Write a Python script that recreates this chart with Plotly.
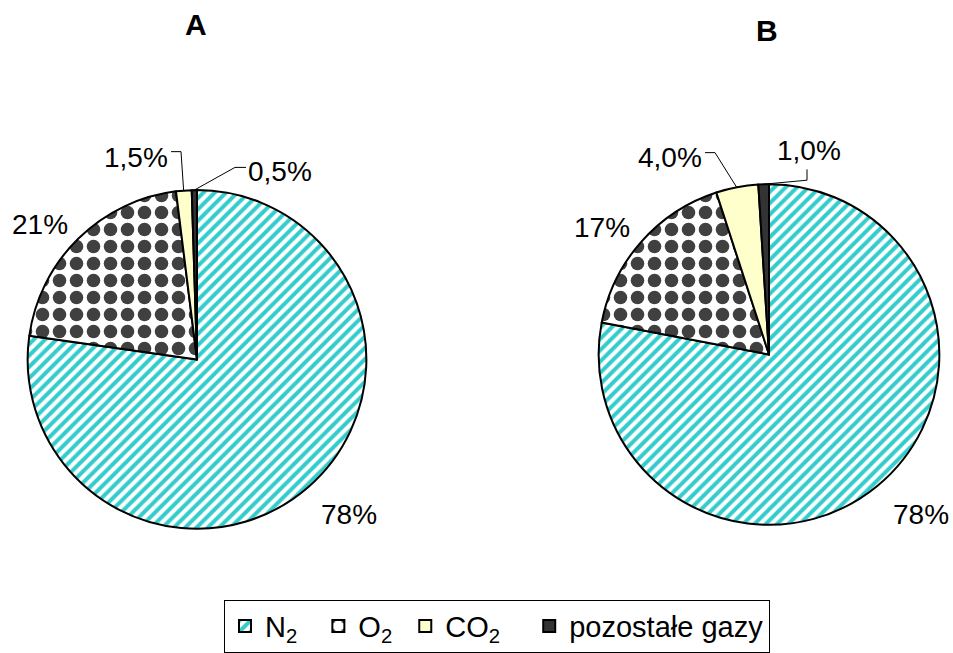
import math
import plotly.graph_objects as go

# ---- data ----
labels = ["N<sub>2</sub>", "O<sub>2</sub>", "CO<sub>2</sub>", "pozostałe gazy"]
values_a = [78, 21, 1.5, 0.5]
values_b = [78, 17, 4.0, 1.0]
text_a = ["78%", "21%", "1,5%", "0,5%"]
text_b = ["78%", "17%", "4,0%", "1,0%"]
titles = ["A", "B"]

# ---- styles ----
W, H = 953, 653
FONT = "Liberation Sans, Arial, sans-serif"
fills = ["#FFFFFF", "#FFFFFF", "#FFFFCC", "#333333"]
pattern = dict(
    shape=["/", ".", "", ""],
    fgcolor=["#33CCCC", "#404040", "#FFFFCC", "#333333"],
    bgcolor=["#FFFFFF", "#FFFFFF", "#FFFFCC", "#333333"],
    size=[8, 17, 8, 8],
    solidity=[0.5, 0.5, 0.3, 0.3],
    fillmode="replace",
)
# extra spacing after each legend entry (number of non-breaking spaces)
legend_pad = [2, 1, 3, 0]
pie_labels = [lab + "&nbsp;" * p for lab, p in zip(labels, legend_pad)]

# pie geometry in pixels: center x, center y, radius
geo = [(197, 365, 172), (769, 360, 173)]
title_pos = [(196, 25), (767, 31)]

# label layout (pixel text centers)
label_pos_a = [(349, 523), (40, 228), (136, 160), (280, 174)]
label_pos_b = [(921, 523), (602, 231), (670, 160), (809, 153)]
# leader lines: (elbow, end) for small slices
leaders_a = {2: ((181, 154), (171, 154)), 3: ((235, 170), (246, 170))}
leaders_b = {2: ((715, 155), (705, 155)), 3: ((807, 183), (807, 172))}


def px(x):
    return x / W


def py(y):
    return 1 - y / H


fig = go.Figure()
for i, vals in enumerate([values_a, values_b]):
    cx, cy, r = geo[i]
    fig.add_trace(go.Pie(
        labels=pie_labels, values=vals, sort=False, direction="clockwise", rotation=0,
        textinfo="none", hoverinfo="label+value",
        marker=dict(colors=fills, pattern=pattern, line=dict(color="black", width=2)),
        domain=dict(x=[px(cx - r), px(cx + r)], y=[py(cy + r), py(cy - r)]),
        showlegend=(i == 0),
    ))

annotations = []
shapes = []
for i, (vals, texts, lpos, leaders) in enumerate(
        [(values_a, text_a, label_pos_a, leaders_a), (values_b, text_b, label_pos_b, leaders_b)]):
    cx, cy, r = geo[i]
    total = sum(vals)
    cum = 0
    for j, v in enumerate(vals):
        mid = (cum + v / 2) / total * 2 * math.pi
        cum += v
        ax_, ay_ = cx + r * math.sin(mid), cy - r * math.cos(mid)
        tx, ty = lpos[j]
        annotations.append(dict(x=px(tx), y=py(ty), xref="paper", yref="paper", text=texts[j],
                                showarrow=False, font=dict(family=FONT, size=28, color="black"),
                                xanchor="center", yanchor="middle"))
        if j in leaders:
            (ex, ey), (fx, fy) = leaders[j]
            path = f"M{px(ax_)},{py(ay_)} L{px(ex)},{py(ey)} L{px(fx)},{py(fy)}"
            shapes.append(dict(type="path", path=path, xref="paper", yref="paper",
                               line=dict(color="black", width=1)))
    tx, ty = title_pos[i]
    annotations.append(dict(x=px(tx), y=py(ty), xref="paper", yref="paper", text=f"<b>{titles[i]}</b>",
                            showarrow=False, font=dict(family=FONT, size=30, color="black"),
                            xanchor="center", yanchor="middle"))

fig.update_layout(
    width=W, height=H, margin=dict(l=0, r=0, t=0, b=0),
    paper_bgcolor="white", plot_bgcolor="white",
    annotations=annotations, shapes=shapes,
    legend=dict(orientation="h", x=px(224), y=py(609), xanchor="left", yanchor="top",
                bordercolor="black", borderwidth=1, bgcolor="white",
                font=dict(family=FONT, size=29, color="black"),
                itemwidth=30, tracegroupgap=0, itemclick=False),
)

fig.write_html(
    "out.html",
    config={"displayModeBar": False},
    post_script=(
        "document.body.style.margin='0';"
        "document.body.style.overflow='hidden';"
        "document.documentElement.style.overflow='hidden';"
    ),
)
